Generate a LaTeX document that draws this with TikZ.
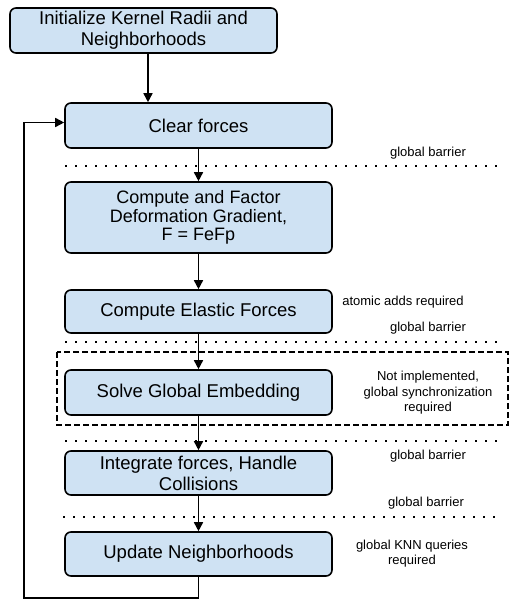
\documentclass[tikz,border=0pt]{standalone}
\usepackage{fontspec}
\setmainfont{Liberation Sans}
\usetikzlibrary{arrows.meta}
\definecolor{boxblue}{RGB}{207,226,243}
\tikzset{
  stepbox/.style={draw,fill=boxblue,rounded corners=6pt,line width=1.6pt,minimum width=267pt,inner sep=0pt,align=center,font=\fontsize{18.5}{21}\selectfont},
  flow/.style={-{Triangle[length=9pt,width=9pt]},line width=1.6pt},
  note/.style={align=center,font=\fontsize{13}{15.5}\selectfont},
  barrier/.style={line width=1.8pt,dash pattern=on 1.8pt off 8.2pt}
}
\begin{document}
\begin{tikzpicture}[x=1pt,y=-1pt]
\useasboundingbox (0,0) rectangle (516,605);
\foreach \y/\a/\b in {166/65/500,342/65/500,441/65/500,517/63/497}
  \draw[barrier] (\a,\y) -- (\b,\y);
\draw[line width=1.7pt,dash pattern=on 6pt off 3pt] (57,352) rectangle (508,425);
\node[stepbox,minimum height=45pt] (init) at (143.5,30.5) {Initialize Kernel Radii and\\Neighborhoods};
\node[stepbox,minimum height=45pt] (clear) at (198.5,125.5) {Clear forces};
\node[stepbox,minimum height=71pt,font=\fontsize{18}{18.5}\selectfont] (defgrad) at (198.5,217.5) {Compute and Factor\\Deformation Gradient,\\F = FeFp};
\node[stepbox,minimum height=43pt] (elastic) at (198.5,311.5) {Compute Elastic Forces};
\node[stepbox,minimum height=45pt] (embed) at (198.5,392.5) {Solve Global Embedding};
\node[stepbox,minimum height=44pt] (integ) at (198.5,473) {Integrate forces, Handle\\Collisions};
\node[stepbox,minimum height=44pt] (update) at (198.5,554) {Update Neighborhoods};
\foreach \x/\y/\t [count=\i] in {428/153/global barrier,428/328/global barrier,428/456/global barrier,426/503/global barrier}
  \node[note] (gb\i) at (\x,\y) {\t};
\node[note] (atomic) at (403,302) {atomic adds required};
\node[note] (notimpl) at (428,393) {Not implemented,\\global synchronization\\required};
\node[note] (knn) at (412,553.5) {global KNN queries\\required};
\draw[flow] ([xshift=4.5pt]init.south) -- ([xshift=4.5pt]init.south |- clear.north);
\draw[flow] (clear) -- (defgrad);
\draw[flow] (defgrad) -- (elastic);
\draw[flow] (elastic) -- (embed);
\draw[flow] (embed) -- (integ);
\draw[flow] (integ) -- (update);
\draw[flow] (update.south) -- ++(0,21) -| ([xshift=-40pt,yshift=3pt]clear.west) -- ([yshift=3pt]clear.west);
\end{tikzpicture}
\end{document}
